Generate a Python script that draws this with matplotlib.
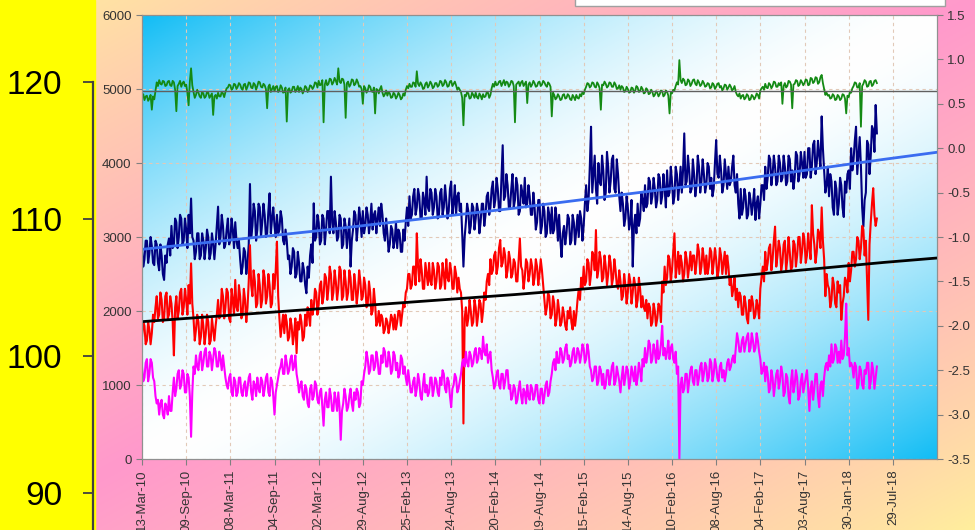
import matplotlib
matplotlib.use('Agg')
import numpy as np
from matplotlib import pyplot as plt
from matplotlib.patches import Rectangle
from matplotlib.colors import to_rgb

# values: *_a on days 0,10,20,... and *_b on days 5,15,25,...
# (day 0 = 13-Mar-10)
green_a = [4880, 4850, 4910, 4870, 4720, 4860, 5090, 5120, 5060, 5100,
           5050, 5110, 5040, 5090, 4700, 5070, 5030, 5100, 5060, 4780,
           5280, 4960, 4920, 4950, 4880, 4940, 4900, 4950, 4910, 4650,
           4920, 4950, 4900, 4940, 4960, 5020, 5050, 5010, 5060, 5030,
           5060, 4990, 5070, 5030, 5080, 5010, 5060, 5040, 5090, 5020,
           5050, 4740, 5060, 5000, 4970, 5040, 4980, 5020, 4960, 4560,
           5010, 4970, 5030, 4990, 4960, 5000, 4980, 5020, 4990, 5040,
           5030, 5080, 5110, 5060, 4550, 5120, 5070, 5130, 5090, 5110,
           5280, 5080, 5130, 4610, 5100, 5060, 5120, 5070, 5090, 5040,
           4800, 5010, 4980, 5030, 4960, 4670, 4990, 5000, 4950, 4930,
           4910, 4940, 4890, 4930, 4900, 4920, 4880, 4910, 5040, 5070,
           5030, 5080, 5240, 5040, 5060, 5010, 5090, 5050, 5070, 5030,
           5080, 5050, 5100, 5060, 5090, 5040, 5110, 5070, 5050, 5020,
           4960, 4510, 4900, 4940, 4880, 4920, 4950, 4870, 4910, 4930,
           4900, 4950, 4920, 5070, 5100, 5060, 5110, 5080, 5050, 5090,
           5060, 5100, 4550, 5080, 5040, 5110, 5070, 4810, 5090, 5060,
           5080, 5040, 5100, 5060, 5090, 5030, 5070, 4630, 4920, 4880,
           4900, 4860, 4930, 4880, 4910, 4850, 4890, 4920, 4870, 4900,
           4930, 5030, 5070, 5040, 5080, 5020, 5060, 4720, 5050, 5070,
           5040, 5080, 5030, 5060, 5010, 4990, 5020, 4970, 5000, 4960,
           5010, 4980, 5020, 4970, 5000, 4950, 4990, 4940, 4960, 4920,
           4950, 4930, 4970, 4920, 4960, 4670, 4940, 4980, 5090, 5390,
           5080, 5120, 5060, 5110, 5070, 5130, 5050, 5090, 5060, 5080,
           5040, 5070, 5020, 5060, 5030, 5080, 5040, 5010, 5050, 5020,
           5030, 5000, 4960, 4900, 4870, 4920, 4880, 4910, 4860, 4900,
           4890, 4920, 4980, 5030, 5070, 5010, 5060, 5040, 5090, 5030,
           5050, 4800, 5080, 5040, 5100, 4740, 5070, 5110, 5060, 5090,
           5080, 5120, 5060, 5140, 5100, 5150, 5090, 5190, 5000, 4950,
           4920, 4880, 4910, 4860, 4900, 4870, 4920, 4670, 4890, 4950,
           5040, 5080, 5020, 4490, 5070, 5100, 5040, 5110, 5060, 5120]
green_b = [4930, 4900, 4840, 4920, 4900, 4980, 5040, 5070, 5110, 5040,
           5100, 5050, 5110, 4990, 5040, 5110, 5080, 5040, 4950, 5100,
           5050, 4880, 4990, 4900, 4960, 4880, 4960, 4880, 4940, 4900,
           4870, 4900, 4960, 4890, 5010, 5060, 4990, 5070, 5000, 5080,
           5010, 5060, 4990, 5090, 5020, 5080, 4990, 5100, 5030, 5070,
           5000, 5030, 4960, 5040, 5030, 4960, 5050, 4950, 5020, 4990,
           4950, 5030, 4960, 5040, 5020, 4940, 5040, 4960, 5050, 5000,
           5090, 5020, 5050, 5120, 5060, 5050, 5140, 5060, 5150, 5060,
           5100, 5140, 5060, 5080, 5030, 5130, 5050, 5130, 5030, 5000,
           5040, 4950, 5050, 4970, 5020, 5000, 4940, 5040, 4900, 4980,
           4960, 4880, 4950, 4870, 4950, 4860, 4940, 4990, 5010, 5030,
           5090, 5030, 5070, 5090, 5000, 5070, 5020, 5100, 5010, 5080,
           5030, 5110, 5040, 5120, 5030, 5100, 5040, 5100, 4990, 4990,
           4880, 4920, 4960, 4870, 4950, 4880, 4890, 4940, 4860, 4890,
           4960, 4880, 5010, 5030, 5050, 5100, 5040, 5120, 5100, 5030,
           5110, 5040, 5060, 5100, 5090, 5040, 5100, 5060, 5030, 5110,
           5030, 5090, 5040, 5110, 5050, 5090, 5030, 4950, 4860, 4930,
           4850, 4920, 4870, 4930, 4860, 4920, 4850, 4880, 4930, 4960,
           4990, 5080, 5020, 5090, 5030, 5090, 5010, 5060, 5100, 5020,
           5090, 5030, 5090, 5000, 5050, 5040, 4960, 5030, 4950, 5020,
           4950, 5040, 4960, 5030, 4940, 5010, 4930, 4990, 4900, 4970,
           4900, 4980, 4900, 4980, 4910, 4950, 4990, 5040, 5060, 5120,
           5140, 5050, 5130, 5040, 5120, 5070, 5120, 5040, 5110, 5030,
           5080, 5010, 5080, 5000, 5070, 5020, 4980, 5060, 4990, 5060,
           4980, 5040, 4920, 4940, 4910, 4860, 4930, 4850, 4920, 4860,
           4940, 4870, 5010, 4990, 5020, 5080, 5010, 5100, 5030, 5080,
           5090, 5040, 5020, 5110, 5060, 5060, 5120, 5040, 5120, 5050,
           5130, 5050, 5150, 5080, 5160, 5070, 5160, 5080, 4920, 4910,
           4870, 4930, 4850, 4920, 4850, 4930, 4870, 4910, 4960, 5010,
           5090, 5020, 5080, 5040, 5120, 5030, 5100, 5040, 5110, 5080]

navy_a = [2850, 2700, 2950, 2780, 2880, 2620, 2900, 2550, 2750, 2420,
          2650, 2980, 3150, 2900, 3200, 3000, 3250, 2950, 3100, 3300,
          3520, 2950, 2800, 3050, 2750, 2950, 2850, 3000, 2780, 2920,
          2900, 3410, 3000, 3150, 2900, 3250, 2950, 3100, 3200, 2850,
          2700, 2600, 2800, 2650, 3716, 3150, 3350, 3100, 3400, 3200,
          3300, 3050, 3590, 3250, 3150, 3300, 3100, 3250, 2900, 2950,
          2750, 2600, 2800, 2500, 2650, 2400, 2550, 2240, 2450, 2900,
          3455, 3000, 3200, 2950, 3250, 3100, 3350, 3815, 3050, 3200,
          3000, 3250, 2900, 3150, 3050, 2600, 3100, 3300, 3150, 3250,
          3350, 3150, 3300, 3200, 3100, 3350, 3250, 3150, 3300, 2950,
          3050, 2900, 3100, 2950, 2850, 3050, 2800, 2950, 3400, 3550,
          3300, 3650, 3400, 3550, 3250, 3500, 3815, 3350, 3600, 3400,
          3550, 3300, 3650, 3400, 3500, 3350, 3750, 3450, 3300, 3600,
          3450, 2600, 3200, 3350, 3150, 3400, 3250, 3350, 3200, 3450,
          3300, 3600, 3400, 3750, 3500, 3650, 3350, 4240, 3550, 3700,
          3400, 3850, 3500, 3700, 3350, 3600, 3800, 3450, 3550, 3300,
          3400, 3200, 3500, 3150, 3350, 3050, 3300, 3400, 3100, 3250,
          3300, 2730, 3150, 3050, 3250, 2950, 3200, 3100, 3000, 3250,
          3150, 3700, 3500, 4490, 3850, 3650, 4000, 3700, 3900, 3600,
          3950, 3750, 4100, 3600, 3850, 3350, 3450, 3250, 3400, 3200,
          2600, 3300, 3450, 3250, 3500, 3700, 3450, 3750, 3550, 3650,
          3500, 3800, 3550, 3650, 3900, 3600, 3750, 3550, 3850, 3700,
          3600, 4400, 3750, 3900, 3650, 3850, 3700, 3950, 3750, 3850,
          3700, 3950, 3800, 3650, 4310, 3800, 3900, 3700, 3850, 3950,
          3750, 4100, 3600, 3450, 3650, 3400, 3550, 3300, 3500, 3450,
          3230, 3550, 3450, 3700, 3950, 3800, 4050, 3850, 3950, 3750,
          4000, 3800, 3950, 3750, 4050, 3900, 3800, 4100, 3850, 4000,
          4150, 3850, 4200, 3950, 4300, 4000, 4100, 4630, 3900, 3700,
          3550, 3750, 3300, 3650, 3450, 3700, 3270, 3600, 3900, 4200,
          4050, 4490, 4100, 3950, 3140, 3600, 4250, 4100, 4450, 4784]
navy_b = [2600, 2950, 2650, 3000, 2650, 2950, 2650, 2900, 2500, 2750,
          2900, 2750, 2850, 3250, 2850, 3300, 2900, 3250, 2850, 3050,
          3000, 2700, 3050, 2700, 3050, 2700, 3100, 2700, 3050, 2700,
          3150, 2900, 3300, 2850, 3100, 2900, 3250, 2850, 2950, 2950,
          2500, 2850, 2500, 2900, 3000, 3450, 2950, 3450, 3000, 3450,
          3000, 3350, 3050, 3400, 3000, 3050, 3350, 2950, 3100, 2700,
          2500, 2850, 2450, 2800, 2400, 2650, 2350, 2600, 2750, 2650,
          2950, 3300, 2900, 3300, 2900, 3350, 3050, 3200, 3350, 2950,
          3300, 2850, 3250, 2850, 3250, 2950, 3350, 2950, 3400, 3000,
          3050, 3400, 3050, 3450, 3300, 3050, 3400, 3450, 3050, 3250,
          2800, 3150, 2850, 3200, 3100, 2800, 3100, 3200, 3150, 3250,
          3550, 3300, 3650, 3250, 3600, 3300, 3400, 3650, 3300, 3650,
          3250, 3600, 3300, 3700, 3250, 3650, 3300, 3700, 3550, 3350,
          3050, 3000, 3450, 3050, 3450, 3100, 3450, 3050, 3450, 3150,
          3550, 3300, 3650, 3400, 3800, 3350, 3800, 3500, 3850, 3400,
          3650, 3400, 3800, 3300, 3700, 3450, 3400, 3700, 3300, 3600,
          3100, 3500, 3050, 3450, 3000, 3400, 3050, 3050, 3400, 2950,
          2950, 3050, 2900, 3300, 2900, 3300, 2900, 3300, 3350, 2950,
          3450, 3350, 3950, 3600, 4100, 3450, 3750, 4100, 3500, 4150,
          3600, 4050, 3650, 4050, 3550, 3600, 3150, 3550, 3100, 3500,
          3150, 3050, 3150, 3600, 3350, 3400, 3800, 3450, 3800, 3400,
          3850, 3450, 3850, 3400, 3550, 3950, 3450, 3950, 3500, 3950,
          3900, 3700, 4100, 3600, 4050, 3550, 4100, 3600, 4050, 3600,
          4000, 3650, 3550, 4000, 3850, 4100, 3600, 4050, 3650, 3700,
          3950, 3700, 3850, 3250, 3300, 3650, 3250, 3600, 3300, 3650,
          3450, 3250, 3700, 3500, 3650, 4100, 3700, 4100, 3700, 4100,
          3750, 4100, 3700, 4100, 3750, 3650, 4150, 3750, 4150, 3800,
          3800, 4200, 3800, 4250, 3850, 4300, 3950, 4200, 3600, 3950,
          3850, 3400, 3750, 3300, 3800, 3400, 3750, 3850, 3650, 3900,
          4300, 3850, 4350, 3400, 3500, 4300, 3850, 4500, 4150, 4400]

red_a = [1650, 1800, 1600, 1750, 1700, 1850, 2200, 1950, 2150, 1900,
         2250, 1950, 2100, 1400, 2200, 2000, 2300, 2050, 2150, 2350,
         2644, 1900, 1750, 1850, 1650, 1800, 1700, 1850, 1600, 1750,
         1800, 2150, 1950, 2200, 2050, 2250, 1850, 2150, 2420, 2000,
         2200, 1950, 2150, 2050, 2890, 2200, 2400, 2100, 2350, 2150,
         2450, 2200, 2350, 2100, 2300, 2937, 1900, 1800, 1700, 1850,
         1650, 1800, 1700, 1430, 1750, 1850, 1650, 1800, 1950, 2150,
         2050, 2250, 2100, 2400, 2200, 2450, 2300, 2500, 2250, 2400,
         2300, 2550, 2200, 2400, 2250, 2450, 2150, 2350, 2250, 2400,
         2200, 2350, 2100, 2250, 2000, 2100, 1850, 1800, 1900, 1750,
         1850, 1800, 1900, 1950, 1850, 2000, 1950, 2050, 2300, 2500,
         2350, 2600, 3050, 2400, 2550, 2300, 2500, 2650, 2350, 2550,
         2400, 2600, 2350, 2500, 2700, 2400, 2550, 2300, 2500, 2450,
         2250, 480, 2050, 1900, 2000, 1850, 2050, 1950, 2100, 2000,
         2150, 2500, 2700, 2550, 2800, 2600, 2960, 2650, 2750, 2550,
         2700, 2500, 2650, 2400, 2980, 2550, 2450, 2650, 2500, 2600,
         2450, 2600, 2500, 2550, 2150, 2050, 2200, 1950, 2100, 1900,
         2000, 1850, 1950, 1743, 1900, 1850, 2000, 1950, 2300, 2450,
         2600, 2400, 2650, 2500, 2750, 3094, 2550, 2700, 2450, 2600,
         2500, 2650, 2450, 2550, 2300, 2400, 2200, 2350, 2250, 2400,
         2250, 2350, 2150, 2300, 2200, 2000, 1900, 2050, 1850, 2000,
         1900, 2050, 2400, 2600, 2450, 2700, 2550, 3050, 2600, 2500,
         2650, 2500, 2700, 2600, 2550, 2750, 2650, 2800, 2600, 2700,
         2750, 2600, 2800, 2650, 2700, 2550, 2750, 2650, 2500, 2600,
         2450, 2300, 2150, 2050, 2200, 1950, 2100, 1833, 2000, 2100,
         1950, 2050, 2300, 2600, 2800, 2650, 2900, 2700, 3140, 2750,
         2850, 2650, 2950, 2700, 2800, 2600, 2900, 2750, 3000, 2800,
         2950, 2750, 2850, 3430, 2900, 2800, 3050, 3400, 2700, 2500,
         2300, 2150, 2350, 2050, 2250, 1880, 2200, 2400, 2650, 2550,
         2800, 2700, 2950, 2850, 3100, 2950, 1880, 3200, 3660, 3150]
red_b = [1850, 1550, 1850, 1550, 1950, 2050, 1900, 2250, 1850, 2200,
         1900, 2200, 1850, 2050, 1900, 2250, 1950, 2300, 1950, 2100,
         2100, 1600, 1950, 1550, 1950, 1550, 1950, 1550, 1900, 1600,
         1950, 1900, 2300, 1900, 2300, 1900, 2300, 1950, 2050, 2350,
         1900, 2300, 1850, 2400, 2350, 2550, 2050, 2500, 2050, 2550,
         2100, 2500, 2050, 2500, 2550, 2200, 1650, 1950, 1950, 1600,
         1900, 1550, 1900, 1850, 1950, 1600, 1950, 2050, 1800, 1950,
         2300, 1950, 2350, 2100, 2500, 2150, 2600, 2150, 2550, 2150,
         2600, 2150, 2550, 2150, 2550, 2150, 2500, 2100, 2550, 2150,
         2450, 2050, 2400, 1950, 2300, 1800, 2000, 1950, 1700, 1900,
         1700, 1950, 1750, 1750, 2000, 1800, 2100, 2250, 2500, 2300,
         2600, 2350, 2600, 2700, 2300, 2650, 2350, 2400, 2650, 2300,
         2650, 2300, 2650, 2300, 2450, 2650, 2300, 2600, 2250, 2300,
         2000, 1900, 1800, 2150, 1800, 2150, 1800, 2150, 1850, 2250,
         2400, 2350, 2500, 2750, 2500, 2850, 2600, 2850, 2450, 2800,
         2450, 2700, 2400, 2700, 2600, 2300, 2700, 2400, 2700, 2350,
         2700, 2350, 2700, 2350, 1950, 2250, 1900, 2200, 1800, 2150,
         1800, 2050, 1800, 2000, 2050, 1750, 1800, 2150, 2150, 2300,
         2350, 2700, 2350, 2800, 2550, 2450, 2800, 2400, 2750, 2350,
         2750, 2350, 2700, 2350, 2550, 2150, 2500, 2100, 2500, 2100,
         2450, 2050, 2450, 2050, 2050, 2150, 2100, 1800, 2100, 1800,
         2100, 1850, 2250, 2350, 2750, 2400, 2800, 2450, 2800, 2750,
         2400, 2800, 2450, 2800, 2750, 2500, 2900, 2500, 2850, 2500,
         2500, 2850, 2500, 2850, 2450, 2850, 2500, 2800, 2750, 2350,
         2200, 2450, 2300, 2250, 1950, 2200, 1900, 2150, 2200, 1900,
         2150, 1900, 2450, 2400, 2550, 2850, 2550, 2950, 2600, 2950,
         2550, 2900, 2550, 3000, 2550, 2950, 2600, 3000, 2650, 3050,
         2650, 3050, 2700, 3050, 2650, 3100, 2850, 2950, 2200, 2350,
         2050, 2450, 2100, 2400, 2350, 2100, 2450, 2250, 2400, 2800,
         2600, 3000, 2700, 3150, 2750, 2400, 2900, 3450, 3300, 3250]

magenta_a = [1250, 1100, 1350, 1150, 1300, 1050, 750, 600, 800, 550,
             700, 850, 650, 1100, 950, 1200, 1000, 1150, 900, 1100,
             300, 1250, 1400, 1200, 1450, 1300, 1500, 1250, 1400, 1350,
             1450, 1250, 1350, 1400, 1100, 950, 1150, 850, 1050, 900,
             1100, 850, 1050, 950, 1150, 800, 1000, 1100, 900, 1050,
             950, 1150, 850, 1050, 600, 1000, 1200, 1350, 1150, 1300,
             1200, 1400, 1250, 1150, 900, 1050, 800, 950, 700, 1000,
             850, 1000, 750, 950, 450, 900, 700, 850, 650, 800,
             900, 260, 750, 850, 700, 950, 650, 800, 900, 750,
             1000, 1250, 1350, 1200, 1400, 1250, 1350, 1150, 1300, 1450,
             1250, 1350, 1200, 1400, 1300, 1150, 1350, 1250, 1000, 1050,
             900, 1100, 950, 1050, 800, 1150, 1000, 900, 1100, 950,
             1050, 850, 1000, 1150, 900, 1050, 700, 1000, 1100, 950,
             1150, 1350, 1450, 1250, 1400, 1300, 1500, 1350, 1450, 1653,
             1400, 1300, 1450, 1100, 1000, 1200, 950, 1150, 1050, 1200,
             1000, 850, 950, 800, 1050, 750, 900, 1000, 800, 950,
             850, 1000, 750, 950, 850, 1050, 900, 1150, 1350, 1450,
             1300, 1450, 1350, 1550, 1400, 1300, 1500, 1350, 1450, 1400,
             1500, 1350, 1450, 1200, 1100, 1250, 1050, 1200, 1150, 1000,
             1200, 1100, 1300, 1050, 1150, 900, 1250, 1100, 1200, 1050,
             1150, 1250, 1100, 1200, 1350, 1500, 1400, 1550, 1350, 1450,
             1600, 1400, 1800, 1500, 1450, 1350, 1550, 1300, 1150, 0,
             1100, 950, 1150, 1050, 1250, 1000, 1200, 1100, 1300, 1150,
             1250, 1100, 1300, 1150, 1250, 1050, 1300, 1200, 1150, 1350,
             1250, 1400, 1500, 1600, 1450, 1650, 1550, 1700, 1500, 1600,
             1500, 1600, 1350, 1200, 1050, 1150, 950, 1100, 1000, 1200,
             1050, 1150, 900, 1100, 750, 1200, 1000, 1100, 850, 1150,
             1000, 1200, 650, 1050, 950, 1150, 700, 1050, 1100, 1300,
             1400, 1550, 1350, 1500, 1450, 1600, 1400, 2100, 1500, 1300,
             1100, 1250, 1000, 1200, 950, 1150, 1300, 1050, 1200, 1100]
magenta_b = [1050, 1300, 1050, 1350, 1100, 850, 800, 750, 600, 750,
             600, 650, 900, 850, 1150, 950, 1200, 900, 1150, 850,
             900, 1150, 1250, 1400, 1200, 1450, 1250, 1450, 1200, 1500,
             1250, 1450, 1200, 1250, 1000, 1100, 900, 1100, 850, 1100,
             900, 1000, 850, 1100, 900, 1050, 850, 950, 1100, 850,
             1100, 900, 1100, 850, 900, 1100, 1250, 1150, 1400, 1150,
             1350, 1200, 1400, 1050, 1000, 850, 1000, 750, 950, 800,
             1050, 800, 900, 700, 800, 700, 950, 650, 900, 650,
             700, 650, 950, 650, 850, 750, 900, 950, 700, 1050,
             1150, 1450, 1150, 1400, 1200, 1450, 1150, 1400, 1500, 1250,
             1450, 1150, 1450, 1200, 1100, 1400, 1150, 1100, 1200, 900,
             1050, 850, 1150, 850, 1000, 900, 850, 1100, 850, 1100,
             900, 1100, 1200, 950, 1100, 850, 950, 1150, 900, 1050,
             1300, 1250, 1300, 1450, 1250, 1450, 1300, 1500, 1350, 1450,
             1550, 1400, 1200, 950, 1150, 1000, 1150, 950, 1200, 950,
             800, 1000, 750, 950, 850, 950, 750, 850, 1000, 800,
             1000, 800, 950, 750, 1000, 850, 1050, 1300, 1200, 1300,
             1500, 1300, 1500, 1350, 1250, 1450, 1300, 1500, 1300, 1550,
             1300, 1550, 1250, 1050, 1250, 1000, 1250, 1000, 950, 1200,
             1000, 1250, 1000, 1250, 1050, 1100, 1000, 1250, 950, 1250,
             1050, 1000, 1300, 1050, 1250, 1300, 1600, 1300, 1550, 1300,
             1350, 1550, 1400, 1350, 1600, 1500, 1350, 1450, 1250, 1000,
             900, 1150, 900, 1200, 1050, 1200, 1000, 1250, 1050, 1300,
             1050, 1350, 1050, 1350, 1100, 1250, 1100, 1050, 1300, 1200,
             1350, 1300, 1700, 1450, 1600, 1450, 1650, 1450, 1700, 1450,
             1700, 1450, 1150, 1300, 1250, 900, 1200, 850, 1150, 950,
             1250, 850, 1150, 850, 1050, 900, 1200, 800, 1050, 900,
             1100, 950, 950, 800, 1150, 850, 1000, 850, 1250, 1200,
             1250, 1300, 1550, 1300, 1300, 1350, 1650, 1400, 1250, 1250,
             1300, 950, 1250, 1000, 1200, 1300, 950, 1300, 950, 1250]

# trend lines (day, value)
trend_days = [0, 745, 1519, 2272, 3025, 3240]
blue_trend = [2833, 3094, 3390, 3703, 4050, 4145]
black_trend = [1856, 2036, 2222, 2425, 2657, 2716]
ref_level = 4975

tick_labels = ['13-Mar-10', '09-Sep-10', '08-Mar-11', '04-Sep-11', '02-Mar-12',
               '29-Aug-12', '25-Feb-13', '24-Aug-13', '20-Feb-14', '19-Aug-14',
               '15-Feb-15', '14-Aug-15', '10-Feb-16', '08-Aug-16', '04-Feb-17',
               '03-Aug-17', '30-Jan-18', '29-Jul-18']
tick_days = [180 * i for i in range(len(tick_labels))]
side_ticks = [90, 100, 110, 120]


def merge(a, b):
    vals = np.empty(len(a) + len(b))
    vals[0::2] = a
    vals[1::2] = b
    return np.arange(len(vals)) * 5, vals


plt.rcParams['font.family'] = ['Liberation Sans', 'DejaVu Sans']

W, H = 975, 530
fig = plt.figure(figsize=(W / 100, H / 100), dpi=100)

# figure background: yellow in two corners, pink along the other diagonal
bg = fig.add_axes([0, 0, 1, 1])
bg.set_zorder(-5)
bg.axis('off')
yy, xx = np.mgrid[0:1:265j, 0:1:488j]
t = (1 - np.abs(xx + yy - 1)) ** 0.8
yel = np.array(to_rgb('#fff09c'))
pnk = np.array(to_rgb('#ff99cc'))
img = yel + (pnk - yel) * t[..., None]
bg.imshow(img, extent=[0, 1, 0, 1], aspect='auto', origin='upper')
bg.add_patch(Rectangle((0, 0), 95 / W, 1, color='#ffff00', zorder=3))
bg.add_patch(Rectangle((575 / W, 1 - 6 / H), 370 / W, 0.05, facecolor='white',
                       edgecolor='#a0a0a0', lw=1, clip_on=False, zorder=3))
bg.set_xlim(0, 1)
bg.set_ylim(0, 1)

# leftover axis of the neighbouring chart
side = fig.add_axes([93 / W, 0, 0.002, 1])
side.patch.set_visible(False)
for s in ['top', 'right', 'bottom']:
    side.spines[s].set_visible(False)
side.set_ylim(87.3, 126.0)
side.spines['left'].set_bounds(87.3, 120)
side.spines['left'].set_color('#404040')
side.spines['left'].set_linewidth(1.6)
side.set_xticks([])
side.set_yticks(side_ticks)
side.tick_params(axis='y', direction='out', length=7, width=1.3, color='#404040',
                 pad=15, labelsize=24)

# main plot
ax = fig.add_axes([142 / W, 71 / H, 795 / W, 444 / H])
yy2, xx2 = np.mgrid[0:1:200j, 0:1:360j]
t2 = np.abs(xx2 + yy2 - 1) ** 1.6
sky = np.array(to_rgb('#12bdf5'))
img2 = 1 + (sky - 1) * t2[..., None]
ax.imshow(img2, extent=[0, 1, 0, 1], transform=ax.transAxes, aspect='auto',
          origin='upper', zorder=0)

for a, b, col, w in [(green_a, green_b, '#148a14', 1.3),
                     (navy_a, navy_b, '#000080', 1.5),
                     (red_a, red_b, '#ff0000', 1.5),
                     (magenta_a, magenta_b, '#ff00ff', 1.5)]:
    days, vals = merge(a, b)
    ax.plot(days, vals, color=col, lw=w, zorder=2)

ax.plot(trend_days, blue_trend, color='#3a6cf0', lw=2, zorder=3)
ax.plot(trend_days, black_trend, color='black', lw=2, zorder=3)
ax.axhline(ref_level, color='#606060', lw=1, zorder=3)

ax.set_xlim(0, 3240)
ax.set_ylim(0, 6000)
ax.set_xticks(tick_days)
ax.set_xticklabels(tick_labels, rotation=90)
ax.set_yticks(range(0, 6001, 1000))
ax.grid(True, color='#e2c9b8', ls=(0, (3, 3)), lw=0.8)
ax.set_axisbelow(True)
ax.tick_params(direction='out', length=4, color='#808080',
               labelsize=9.5, labelcolor='#333333')
for s in ax.spines.values():
    s.set_color('#909090')

ax2 = ax.twinx()
ax2.set_ylim(-3.5, 1.5)
rticks = np.arange(-3.5, 1.51, 0.5)
ax2.set_yticks(rticks)
ax2.set_yticklabels(['%.1f' % v for v in rticks])
ax2.tick_params(direction='out', length=4, color='#808080',
                labelsize=9.5, labelcolor='#333333')
for s in ax2.spines.values():
    s.set_color('#909090')

fig.savefig('out.png', dpi=100)
